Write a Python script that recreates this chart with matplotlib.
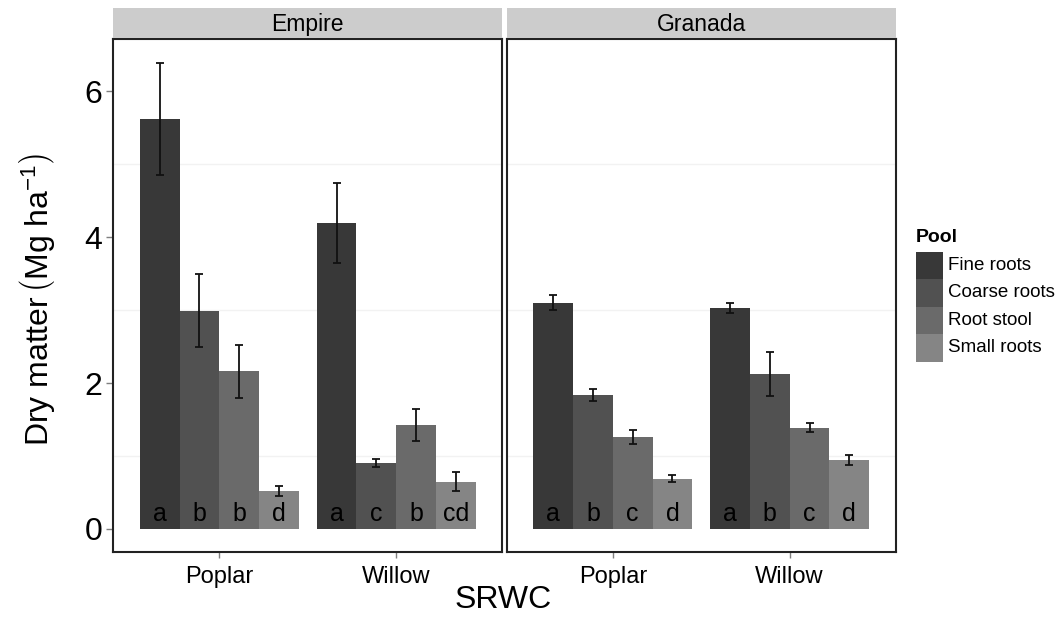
import numpy as np
import matplotlib
matplotlib.use("Agg")
import matplotlib.pyplot as plt
from matplotlib.patches import Rectangle

plt.rcParams["font.family"] = ["Liberation Sans", "DejaVu Sans"]
plt.rcParams["mathtext.fontset"] = "custom"
plt.rcParams["mathtext.rm"] = "Liberation Sans"
plt.rcParams["mathtext.it"] = "Liberation Sans:italic"

# Data: root dry matter by site, SRWC species and pool
sites = ["Empire", "Granada"]
species = ["Poplar", "Willow"]
pools = ["Fine roots", "Coarse roots", "Root stool", "Small roots"]
pool_colors = ["#383838", "#515151", "#6a6a6a", "#858585"]

# Mean dry matter per pool
empire_poplar = [5.62, 2.99, 2.16, 0.52]
empire_willow = [4.19, 0.91, 1.43, 0.65]
granada_poplar = [3.10, 1.84, 1.26, 0.69]
granada_willow = [3.03, 2.12, 1.39, 0.94]

# Standard errors per pool
empire_poplar_se = [0.77, 0.50, 0.36, 0.065]
empire_willow_se = [0.55, 0.055, 0.22, 0.135]
granada_poplar_se = [0.105, 0.08, 0.10, 0.045]
granada_willow_se = [0.07, 0.30, 0.06, 0.07]

# Significance letters per pool
empire_poplar_letters = ["a", "b", "b", "d"]
empire_willow_letters = ["a", "c", "b", "cd"]
granada_poplar_letters = ["a", "b", "c", "d"]
granada_willow_letters = ["a", "b", "c", "d"]

means = {"Empire": [empire_poplar, empire_willow],
         "Granada": [granada_poplar, granada_willow]}
ses = {"Empire": [empire_poplar_se, empire_willow_se],
       "Granada": [granada_poplar_se, granada_willow_se]}
letters = {"Empire": [empire_poplar_letters, empire_willow_letters],
           "Granada": [granada_poplar_letters, granada_willow_letters]}

W, H = 1063, 619
fig = plt.figure(figsize=(W / 100, H / 100), dpi=100)

def px_box(x0, y0, x1, y1):
    return [x0 / W, 1 - y1 / H, (x1 - x0) / W, (y1 - y0) / H]

panel_x = [(113.3, 502.3), (506.7, 895.7)]
panel_top, panel_bot = 39.3, 552.3
strip_top = 8.0

bar_w = 0.225
x_pos = np.arange(1, len(species) + 1)
offsets = (np.arange(len(pools)) - 1.5) * bar_w

for i, site in enumerate(sites):
    x0, x1 = panel_x[i]
    ax = fig.add_axes(px_box(x0, panel_top, x1, panel_bot))
    for j in range(len(species)):
        for k in range(len(pools)):
            xc = x_pos[j] + offsets[k]
            v = means[site][j][k]
            e = ses[site][j][k]
            ax.bar(xc, v, width=bar_w, color=pool_colors[k], linewidth=0, zorder=2)
            ax.errorbar(xc, v, yerr=e, fmt="none", ecolor="#111111",
                        elinewidth=1.3, capsize=2.6, capthick=1.3, zorder=3)
            ax.text(xc, 0.11, letters[site][j][k], ha="center", va="baseline",
                    fontsize=18, color="black", zorder=4)
    ax.set_xlim(0.4, 2.6)
    ax.set_ylim(-0.32, 6.71)
    ax.set_yticks([0, 2, 4, 6])
    ax.set_yticks([1, 3, 5], minor=True)
    ax.grid(which="minor", axis="y", color="#f2f2f2", linewidth=1.0, zorder=0)
    ax.set_axisbelow(True)
    ax.set_xticks(x_pos)
    ax.set_xticklabels(species, fontsize=17)
    ax.tick_params(axis="x", length=4, color="#7f7f7f", width=1, pad=6)
    ax.tick_params(axis="y", which="minor", length=0)
    if i == 0:
        ax.tick_params(axis="y", which="major", length=5, color="#7f7f7f",
                       width=1, labelsize=23, pad=3)
    else:
        ax.tick_params(axis="y", which="major", length=0, labelleft=False)
    for s in ax.spines.values():
        s.set_color("#222222")
        s.set_linewidth(1.5)

    sax = fig.add_axes(px_box(x0, strip_top, x1, 38.3))
    sax.set_facecolor("#cccccc")
    sax.set_xticks([])
    sax.set_yticks([])
    for s in sax.spines.values():
        s.set_visible(False)
    sax.text(0.5, 0.45, site, ha="center", va="center", fontsize=16.5,
             transform=sax.transAxes)

fig.text(37 / W, 1 - 300 / H,
         r"$\mathrm{Dry\ matter}\,\left(\mathrm{Mg\ ha^{-1}}\right)$",
         rotation=90, ha="center", va="center", fontsize=23)
fig.text(503 / W, 1 - 600 / H, "SRWC", ha="center", va="center", fontsize=23)

# Legend for the pools
leg_ax = fig.add_axes([0, 0, 1, 1], facecolor="none")
leg_ax.set_xlim(0, W)
leg_ax.set_ylim(H, 0)
leg_ax.axis("off")
leg_ax.text(916, 238, "Pool", fontsize=14, fontweight="bold", va="center", ha="left")
key_top, key_h, key_w = 251.7, 27.5, 27
for k, name in enumerate(pools):
    y = key_top + k * key_h
    leg_ax.add_patch(Rectangle((916, y), key_w, key_h, facecolor=pool_colors[k],
                               edgecolor="none"))
    leg_ax.text(948, y + key_h / 2, name, fontsize=13.5, va="center", ha="left")

fig.savefig("out.png", dpi=100)
